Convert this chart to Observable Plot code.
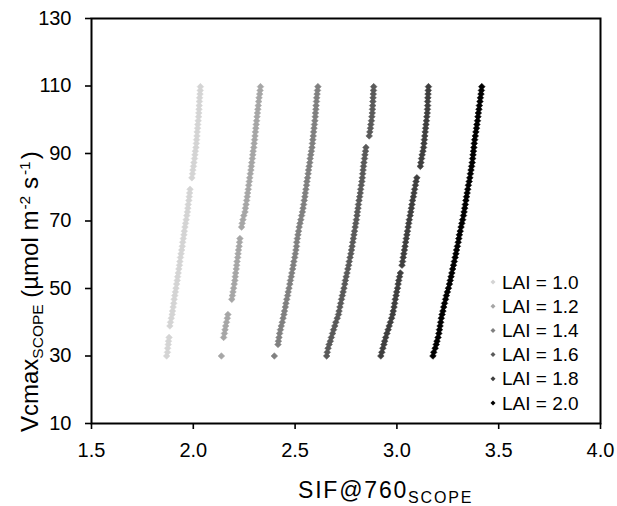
<!DOCTYPE html>
<html><head><meta charset="utf-8">
<script src="https://cdn.jsdelivr.net/npm/d3@7"></script>
<script src="https://cdn.jsdelivr.net/npm/@observablehq/plot@0.6"></script>
<style>
body{margin:0;background:#fff;font-family:"Liberation Sans",Arial,sans-serif;}
#chart{position:relative;width:617px;height:506px;}
</style></head><body><div id="chart"></div>
<script>
// Vcmax_SCOPE sample values (µmol m-2 s-1), shared by all LAI runs
const vcmax = [
  30.0, 31.1, 32.3, 33.4, 34.4, 35.5, 36.7, 37.8,
  38.9, 40.0, 41.2, 42.3, 43.3, 44.5, 45.6, 46.8,
  47.9, 49.0, 50.1, 51.3, 52.4, 53.5, 54.6, 55.8,
  56.9, 58.0, 59.2, 60.3, 61.4, 62.5, 63.7, 64.8,
  65.9, 67.0, 68.2, 69.3, 70.4, 71.6, 72.7, 73.8,
  74.9, 76.1, 77.2, 78.3, 79.4, 80.6, 81.7, 82.8,
  84.0, 85.1, 86.2, 87.3, 88.5, 89.6, 90.7, 91.8,
  93.0, 94.1, 95.2, 96.4, 97.5, 98.6, 99.7, 100.9,
  102.0, 103.1, 104.2, 105.4, 106.5, 107.6, 108.7, 109.8
];
// SIF@760_SCOPE for each LAI (null = no point at that Vcmax)
const sifLAI10 = [
  1.869, 1.873, 1.874, 1.877, 1.878, 1.881, null, null,
  1.885, 1.888, 1.892, 1.896, 1.898, 1.901, 1.904, 1.906,
  1.909, 1.912, 1.915, 1.918, 1.921, 1.923, 1.926, 1.929,
  1.932, 1.934, 1.937, 1.940, 1.943, 1.946, 1.948, 1.951,
  1.954, 1.956, 1.959, 1.962, 1.965, 1.968, 1.971, 1.973,
  1.975, 1.978, 1.980, 1.982, 1.984, null, null, 1.993,
  1.996, 1.998, 2.001, 2.003, 2.006, 2.008, 2.010, 2.013,
  2.015, 2.016, 2.018, 2.019, 2.021, 2.022, 2.024, 2.026,
  2.027, 2.028, 2.029, 2.030, 2.031, 2.033, 2.034, 2.035
];
const sifLAI12 = [
  2.138, null, null, null, null, 2.149, 2.153, 2.156,
  2.159, 2.163, 2.167, 2.170, null, null, null, 2.189,
  2.192, 2.195, 2.198, 2.201, 2.204, 2.206, 2.208, 2.211,
  2.213, 2.215, 2.218, 2.220, 2.222, 2.225, 2.227, 2.229,
  null, null, 2.237, 2.240, 2.244, 2.248, 2.254, 2.256,
  2.259, 2.262, 2.265, 2.267, 2.270, 2.272, 2.275, 2.277,
  2.280, 2.283, 2.285, 2.287, 2.290, 2.292, 2.294, 2.297,
  2.299, 2.301, 2.303, 2.305, 2.307, 2.309, 2.311, 2.313,
  2.315, 2.317, 2.319, 2.321, 2.323, 2.326, 2.328, 2.330
];
const sifLAI14 = [
  2.398, null, null, 2.416, 2.418, 2.421, 2.424, 2.428,
  2.432, 2.437, 2.441, 2.445, 2.448, 2.452, 2.455, 2.459,
  2.463, 2.466, 2.470, 2.474, 2.477, 2.481, 2.484, 2.488,
  2.491, 2.494, 2.498, 2.501, 2.504, 2.507, 2.508, 2.511,
  2.514, 2.517, 2.520, 2.524, 2.528, 2.532, 2.536, 2.539,
  2.542, 2.545, 2.548, 2.550, 2.553, 2.556, 2.558, 2.561,
  2.564, 2.566, 2.569, 2.572, 2.574, 2.577, 2.580, 2.583,
  2.585, 2.587, 2.589, 2.591, 2.593, 2.595, 2.597, 2.599,
  2.600, 2.602, 2.603, 2.605, 2.606, 2.608, 2.610, 2.612
];
const sifLAI16 = [
  2.655, 2.658, 2.662, 2.667, 2.673, 2.678, 2.684, 2.689,
  2.695, 2.700, 2.707, 2.713, 2.716, 2.720, 2.724, 2.728,
  2.732, 2.736, 2.740, 2.744, 2.747, 2.751, 2.755, 2.759,
  2.763, 2.766, 2.770, 2.774, 2.777, 2.780, 2.783, 2.786,
  2.789, 2.792, 2.795, 2.798, 2.801, 2.804, 2.806, 2.809,
  2.811, 2.814, 2.817, 2.820, 2.822, 2.825, 2.828, 2.830,
  2.832, 2.834, 2.836, 2.838, 2.841, 2.843, 2.846, 2.848,
  null, null, 2.864, 2.867, 2.870, 2.872, 2.875, 2.877,
  2.879, 2.880, 2.881, 2.882, 2.883, 2.884, 2.885, 2.886
];
const sifLAI18 = [
  2.921, 2.926, 2.931, 2.936, 2.940, 2.945, 2.951, 2.957,
  2.962, 2.968, 2.974, 2.979, 2.982, 2.986, 2.989, 2.992,
  2.996, 2.999, 3.003, 3.006, 3.009, 3.013, 3.017, null,
  3.025, 3.028, 3.031, 3.034, 3.037, 3.040, 3.043, 3.046,
  3.049, 3.052, 3.055, 3.058, 3.061, 3.065, 3.068, 3.071,
  3.074, 3.077, 3.081, 3.084, 3.087, 3.091, 3.094, 3.098,
  null, null, 3.115, 3.118, 3.121, 3.124, 3.128, 3.131,
  3.133, 3.135, 3.137, 3.139, 3.141, 3.143, 3.145, 3.147,
  3.149, 3.150, 3.151, 3.151, 3.152, 3.153, 3.154, 3.155
];
const sifLAI20 = [
  3.177, 3.181, 3.188, 3.193, 3.197, 3.202, 3.206, 3.209,
  3.212, 3.215, 3.218, 3.222, 3.226, 3.230, 3.234, 3.239,
  3.243, 3.248, 3.253, 3.258, 3.262, 3.266, 3.270, 3.274,
  3.278, 3.282, 3.286, 3.290, 3.293, 3.297, 3.301, 3.304,
  3.307, 3.311, 3.315, 3.319, 3.323, 3.327, 3.330, 3.333,
  3.336, 3.339, 3.342, 3.345, 3.348, 3.351, 3.355, 3.358,
  3.361, 3.364, 3.367, 3.370, 3.372, 3.374, 3.376, 3.378,
  3.380, 3.382, 3.385, 3.388, 3.391, 3.393, 3.396, 3.398,
  3.400, 3.403, 3.405, 3.408, 3.410, 3.413, 3.415, 3.417
];
const laiLabels = ["LAI = 1.0", "LAI = 1.2", "LAI = 1.4", "LAI = 1.6", "LAI = 1.8", "LAI = 2.0"];
const laiColors = ["#d4d4d4", "#a6a6a6", "#808080", "#5a5a5a", "#3f3f3f", "#000000"];
const xTicks = [1.5, 2.0, 2.5, 3.0, 3.5, 4.0];
const yTicks = [10, 30, 50, 70, 90, 110, 130];

const series = [sifLAI10, sifLAI12, sifLAI14, sifLAI16, sifLAI18, sifLAI20];
const data = [];
series.forEach((arr, i) => arr.forEach((s, j) => {
  if (s != null) data.push({lai: laiLabels[i], vcmax: vcmax[j], sif: s});
}));

const W = 617, H = 506, mL = 91, mR = 17, mT = 18, mB = 83;
const font = "'Liberation Sans', Arial, sans-serif";

const plot = Plot.plot({
  width: W, height: H,
  marginLeft: mL, marginRight: mR, marginTop: mT, marginBottom: mB,
  style: {fontFamily: font, fontSize: "20px", color: "#000", background: "#fff", overflow: "visible"},
  x: {domain: [1.5, 4.0]},
  y: {domain: [10, 130]},
  color: {domain: laiLabels, range: laiColors},
  marks: [
    Plot.dot(data, {x: "sif", y: "vcmax", fill: "lai", symbol: "diamond2", r: 3.0, stroke: "lai", strokeWidth: 0.5}),
    Plot.frame({stroke: "#000", strokeWidth: 2}),
    Plot.axisX({ticks: xTicks, tickFormat: d3.format(".1f"), label: null, tickSize: 6, tickPadding: 13, strokeWidth: 1.6}),
    Plot.axisY({ticks: yTicks, label: null, tickSize: 6, tickPadding: 14, strokeWidth: 1.6})
  ]
});

document.getElementById("chart").appendChild(plot);
const svg = d3.select(plot);

// x-axis title
const xt = svg.append("text")
  .attr("x", 298).attr("y", 498).attr("text-anchor", "start")
  .style("letter-spacing", "1.8px")
  .attr("font-family", font).attr("font-size", 23).attr("fill", "#000");
xt.append("tspan").text("SIF@760");
xt.append("tspan").attr("font-size", 16).attr("dy", 5).text("SCOPE");

// y-axis title
const yt = svg.append("text")
  .attr("transform", "translate(38,432) rotate(-90)")
  .attr("text-anchor", "start")
  .attr("font-family", font).attr("font-size", 24).attr("fill", "#000");
yt.append("tspan").text("Vcmax");
yt.append("tspan").attr("font-size", 15.5).attr("dy", 5).text("SCOPE");
yt.append("tspan").attr("dy", -5).text(" (µmol m");
yt.append("tspan").attr("font-size", 15.5).attr("dy", -8).attr("dx", 1).text("-2");
yt.append("tspan").attr("dy", 8).text(" s");
yt.append("tspan").attr("font-size", 15.5).attr("dy", -8).attr("dx", 2).text("-1");
yt.append("tspan").attr("dy", 8).attr("dx", 2).text(")");

// legend
const lg = svg.append("g");
laiLabels.forEach((lab, i) => {
  const cy = 282 + i * 24.2;
  lg.append("path")
    .attr("d", d3.symbol(d3.symbolDiamond2, 16)())
    .attr("transform", `translate(493,${cy})`)
    .attr("fill", laiColors[i]);
  lg.append("text")
    .attr("x", 502).attr("y", cy).attr("dy", "0.35em").attr("text-anchor", "start")
    .attr("font-family", font).attr("font-size", 19).attr("fill", "#000")
    .text(lab);
});
</script></body></html>
